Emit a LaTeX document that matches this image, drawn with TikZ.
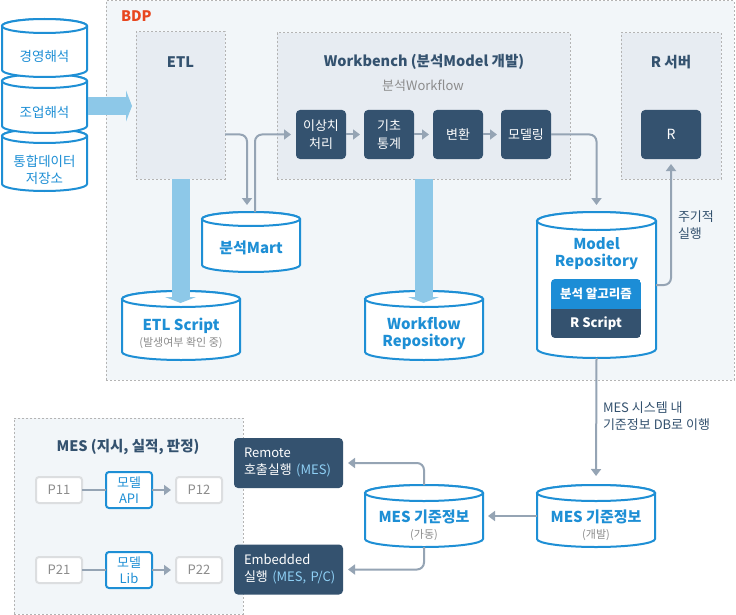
\documentclass[tikz,border=0pt]{standalone}
\usepackage{fontspec}
\setmainfont{Noto Sans CJK KR}
\usetikzlibrary{arrows.meta}
\definecolor{navy}{HTML}{34526F}
\definecolor{cblue}{HTML}{1E8FD5}
\definecolor{abar}{HTML}{8DC8E8}
\definecolor{conncol}{HTML}{95A4B4}
\definecolor{bgout}{HTML}{F2F6F9}
\definecolor{bgin}{HTML}{E7ECF2}
\definecolor{dashc}{HTML}{B4B4B4}
\definecolor{bdpc}{HTML}{E8461E}
\definecolor{graytxt}{HTML}{8C8C8C}
\definecolor{lblue}{HTML}{8FD0F5}
\definecolor{pgray}{HTML}{DCDEE0}
\definecolor{algoc}{HTML}{1C8DD6}
\newcommand\mkcyl[6]{%
  \pgfmathsetmacro\crx{(#2-#1)/2}%
  \pgfmathsetmacro\ccx{(#1+#2)/2}%
  \pgfmathsetmacro\ccy{(#3+#4)/2}%
  \pgfmathsetmacro\cw{#2-#1}%
  \pgfmathsetmacro\ch{#4-#3+2*#5}%
  \draw[cylst] (#1,#3) -- (#1,#4) arc[start angle=180,end angle=0,x radius=\crx,y radius=#5] -- (#2,#3) arc[start angle=0,end angle=-180,x radius=\crx,y radius=#5] -- cycle;
  \draw[cylst] (\ccx,#3) ellipse[x radius=\crx,y radius=#5];
  \node[minimum width=\cw pt, minimum height=\ch pt] (#6) at (\ccx,\ccy) {};
}
\begin{document}
\begin{tikzpicture}[x=1pt,y=-1pt,
  every node/.style={inner sep=0pt, outer sep=0pt},
  dbox/.style={draw=dashc, line width=1pt, dash pattern=on 2pt off 2pt},
  cylst/.style={draw=cblue, line width=2pt, fill=white},
  cyltxt/.style={text=cblue, font=\fontsize{15}{17}\selectfont\bfseries, align=center},
  stacktxt/.style={text=cblue, font=\fontsize{13.5}{17}\selectfont, align=center},
  subtxt/.style={text=graytxt, font=\fontsize{11}{13}\selectfont},
  ttl/.style={text=navy, font=\fontsize{14.5}{16}\selectfont\bfseries},
  stepbox/.style={fill=navy, rounded corners=4pt, text=white, font=\fontsize{13}{18}\selectfont, align=center, minimum width=50pt, minimum height=49pt},
  conn/.style={draw=conncol, line width=2pt, rounded corners=7pt, -{Triangle[width=10pt,length=7pt]}},
  plainconn/.style={draw=conncol, line width=2pt},
  bigarr/.style={draw=abar, line width=18pt, -{Triangle[width=31pt,length=6pt]}},
  pbox/.style={draw=pgray, line width=2pt, fill=white, rounded corners=3pt, minimum width=46pt, minimum height=26pt, text=graytxt, font=\fontsize{13}{15}\selectfont},
  mbox/.style={draw=cblue, line width=2pt, fill=white, rounded corners=3pt, minimum width=46pt, minimum height=36pt, text=cblue, font=\fontsize{13}{16}\selectfont, align=center},
  exbox/.style={fill=navy, rounded corners=4pt, text=white, font=\fontsize{13}{17}\selectfont, align=left, text width=89pt, inner xsep=10pt, minimum height=50pt},
  note/.style={text=navy, font=\fontsize{13}{17}\selectfont, align=left, anchor=west}
]
\fill[white] (0,0) rectangle (736,615);
\useasboundingbox (0,0) rectangle (736,615);

% containers
\node[dbox, fill=bgout, minimum width=628pt, minimum height=379pt, anchor=north west] (bdp) at (106,1) {};
\node[text=bdpc, font=\fontsize{14.5}{16}\selectfont\bfseries, anchor=west] (bdpt) at (121,16.5) {BDP};
\node[dbox, fill=bgin, minimum width=89pt, minimum height=147pt, anchor=north west] (etl) at (136,32) {};
\node[ttl] (etlt) at (180.5,62) {ETL};
\node[dbox, fill=bgin, minimum width=293pt, minimum height=146pt, anchor=north west] (wb) at (277,33) {};
\node[ttl] (wbt) at (424,62) {Workbench (분석Model 개발)};
\node[text=graytxt, font=\fontsize{13}{15}\selectfont] (wft) at (423,86) {분석Workflow};
\node[dbox, fill=bgin, minimum width=100pt, minimum height=146pt, anchor=north west] (rs) at (621,33) {};
\node[ttl] (rst) at (671,62) {R 서버};

% steps
\node[stepbox] (s1) at (321,134.5) {이상치\\처리};
\node[stepbox] (s2) at (389,134.5) {기초\\통계};
\node[stepbox] (s3) at (458,134.5) {변환};
\node[stepbox] (s4) at (526,134.5) {모델링};
\node[stepbox, minimum width=60pt, font=\fontsize{14}{16}\selectfont] (rb) at (671,134.5) {R};

% left stack
\mkcyl{2}{87}{136}{184}{7}{c3}
\mkcyl{2}{87}{81}{126}{7}{c2}
\mkcyl{2}{87}{26}{70}{7}{c1}
\node[stacktxt] (c1t) at (44.5,56) {경영해석};
\node[stacktxt] (c2t) at (44.5,112.5) {조업해석};
\node[stacktxt] (c3t) at (44.5,169.5) {통합데이터\\저장소};

% cylinders inside BDP
\mkcyl{202}{300}{219}{265}{7}{mart}
\node[cyltxt] (martt) at (251,248) {분석Mart};
\mkcyl{122}{240}{299}{352}{8}{etls}
\node[cyltxt] (etlst) at (181,326) {ETL Script};
\node[subtxt] (etlss) at (181,343) {(발생여부 확인 중)};
\mkcyl{365}{483}{299}{352}{8}{wfr}
\node[cyltxt] (wfrt) at (424,334) {Workflow\\Repository};
\mkcyl{537}{656}{221}{349}{9}{mr}
\node[cyltxt] (mrt) at (596.5,253.5) {Model\\Repository};
\begin{scope}
\clip[rounded corners=4pt] (551,279) rectangle (641,338);
\node[fill=algoc, minimum width=90pt, minimum height=30pt, text=white, font=\fontsize{12.5}{14}\selectfont\bfseries] (algo) at (596,294) {분석 알고리즘};
\node[fill=navy, minimum width=90pt, minimum height=29pt, text=white, font=\fontsize{13}{14}\selectfont\bfseries] (rscr) at (596,323.5) {R Script};
\end{scope}

% big arrows
\coordinate (stackR) at (88,106);
\draw[bigarr, shorten >=4pt] (stackR) -- (etl.west |- stackR);
\draw[bigarr] (etl.south) -- (etl.south |- 0,303);
\draw[bigarr] (wb.south) -- (wb.south |- 0,303);

% connectors in BDP
\draw[conn, shorten >=7pt] (etl.east |- s1) -| ([xshift=-4pt]mart.north);
\draw[conn, shorten >=5pt] ([xshift=4pt]mart.north) |- (s1.west);
\draw[conn, shorten >=4pt] (s1.east) -- (s2.west);
\draw[conn, shorten >=4pt] (s2.east) -- (s3.west);
\draw[conn, shorten >=4pt] (s3.east) -- (s4.west);
\draw[conn, shorten >=7pt] (s4.east) -| (mr.north);
\draw[conn, shorten >=5pt] (mr.east) -| (rb.south);
\node[note] (jug) at (678,225) {주기적\\실행};

% MES side
\node[dbox, fill=bgout, minimum width=229pt, minimum height=196pt, anchor=north west] (mes) at (14,418) {};
\node[ttl] (mest) at (128,447) {MES (지시, 실적, 판정)};
\node[pbox] (p11) at (59,490) {P11};
\node[mbox] (api) at (129,490) {모델\\API};
\node[pbox] (p12) at (199,490) {P12};
\node[pbox] (p21) at (59,570) {P21};
\node[mbox] (lib) at (129,570) {모델\\Lib};
\node[pbox] (p22) at (199,570) {P22};
\draw[plainconn] (p11.east) -- (api.west);
\draw[conn, shorten >=5pt] (api.east) -- (p12.west);
\draw[plainconn] (p21.east) -- (lib.west);
\draw[conn, shorten >=5pt] (lib.east) -- (p22.west);

\node[exbox] (remote) at (288.5,463) {Remote\\\mbox{호출실행 {\color{lblue}(MES)}}};
\node[exbox] (emb) at (288.5,569.5) {Embedded\\\mbox{실행 {\color{lblue}(MES, P/C)}}};

\mkcyl{365}{483}{493}{539}{8}{op}
\node[cyltxt] (opt) at (424,517) {MES 기준정보};
\node[subtxt] (ops) at (424,535) {(가동)};
\mkcyl{537}{655}{493}{539}{8}{dev}
\node[cyltxt] (devt) at (596,517) {MES 기준정보};
\node[subtxt] (devs) at (596,535) {(개발)};

\draw[conn, shorten >=9pt] (mr.south) -- (dev.north);
\node[note] (mig) at (603,416.5) {MES 시스템 내\\기준정보 DB로 이행};
\draw[conn, shorten >=5pt] (dev.west) -- (op.east);
\draw[conn, shorten >=5pt] (op.north) |- (remote.east);
\draw[conn, shorten >=5pt] (op.south) |- (emb.east);
\end{tikzpicture}
\end{document}
